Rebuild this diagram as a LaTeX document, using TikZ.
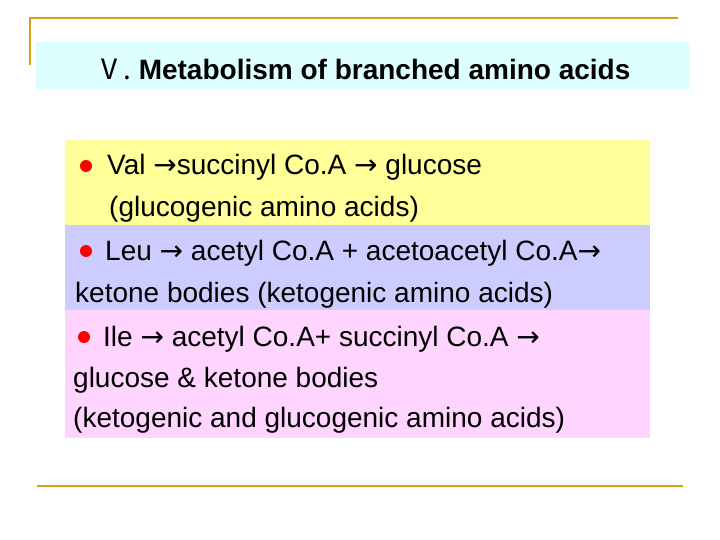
\documentclass[tikz,border=0pt]{standalone}
\usepackage{fontspec}
\setmainfont{Liberation Sans}
\newfontfamily\cjk{Noto Sans CJK SC}
\newfontfamily\dejavu{DejaVu Sans}
\newcommand{\arr}{{\dejavu\mdseries →}}
\definecolor{gold}{HTML}{D4A017}
\definecolor{titlebg}{HTML}{DDFFFF}
\definecolor{ybg}{HTML}{FFFF99}
\definecolor{bbg}{HTML}{CCCCFF}
\definecolor{pbg}{HTML}{FFD5FF}
\begin{document}
\begin{tikzpicture}[x=1pt,y=-1pt,
  txt/.style={anchor=base west,inner sep=0pt,font=\fontsize{28}{30}\selectfont},
  bul/.style={circle,fill=red,inner sep=0pt,minimum size=12pt},
  goldline/.style={draw=gold,line width=2.5pt}]
\useasboundingbox (0,0) rectangle (720,540);
\fill[white] (0,0) rectangle (720,540);
\draw[goldline] (30,65) -- (30,18) -- (678,18);
\draw[goldline] (37,486) -- (683,486);
\fill[titlebg] (36,42) rectangle (690,89);
\node[anchor=base west,inner sep=0pt,font=\fontsize{28}{30}\selectfont\bfseries] (title) at (95,80) {{\cjk\mdseries Ⅴ.}\ Metabolism of branched amino acids};
\fill[ybg] (65,140) rectangle (650,225);
\fill[bbg] (65,225) rectangle (650,310);
\fill[pbg] (65,310) rectangle (650,438);
\node[bul] (b1) at (86,166) {};
\node[txt] (t1) at (107,175) {Val \arr succinyl Co.A \arr\ glucose};
\node[txt] (t2) at (109,217) {(glucogenic amino acids)};
\node[bul] (b2) at (86,251) {};
\node[txt] (t3) at (105,260) {Leu \arr\ acetyl Co.A + acetoacetyl Co.A\arr};
\node[txt] (t4) at (75,302) {ketone bodies (ketogenic amino acids)};
\node[bul] (b3) at (84,337) {};
\node[txt] (t5) at (103,346) {Ile \arr\ acetyl Co.A+ succinyl Co.A \arr};
\node[txt] (t6) at (73,387) {glucose \& ketone bodies};
\node[txt] (t7) at (73,427) {(ketogenic and glucogenic amino acids)};
\end{tikzpicture}
\end{document}
